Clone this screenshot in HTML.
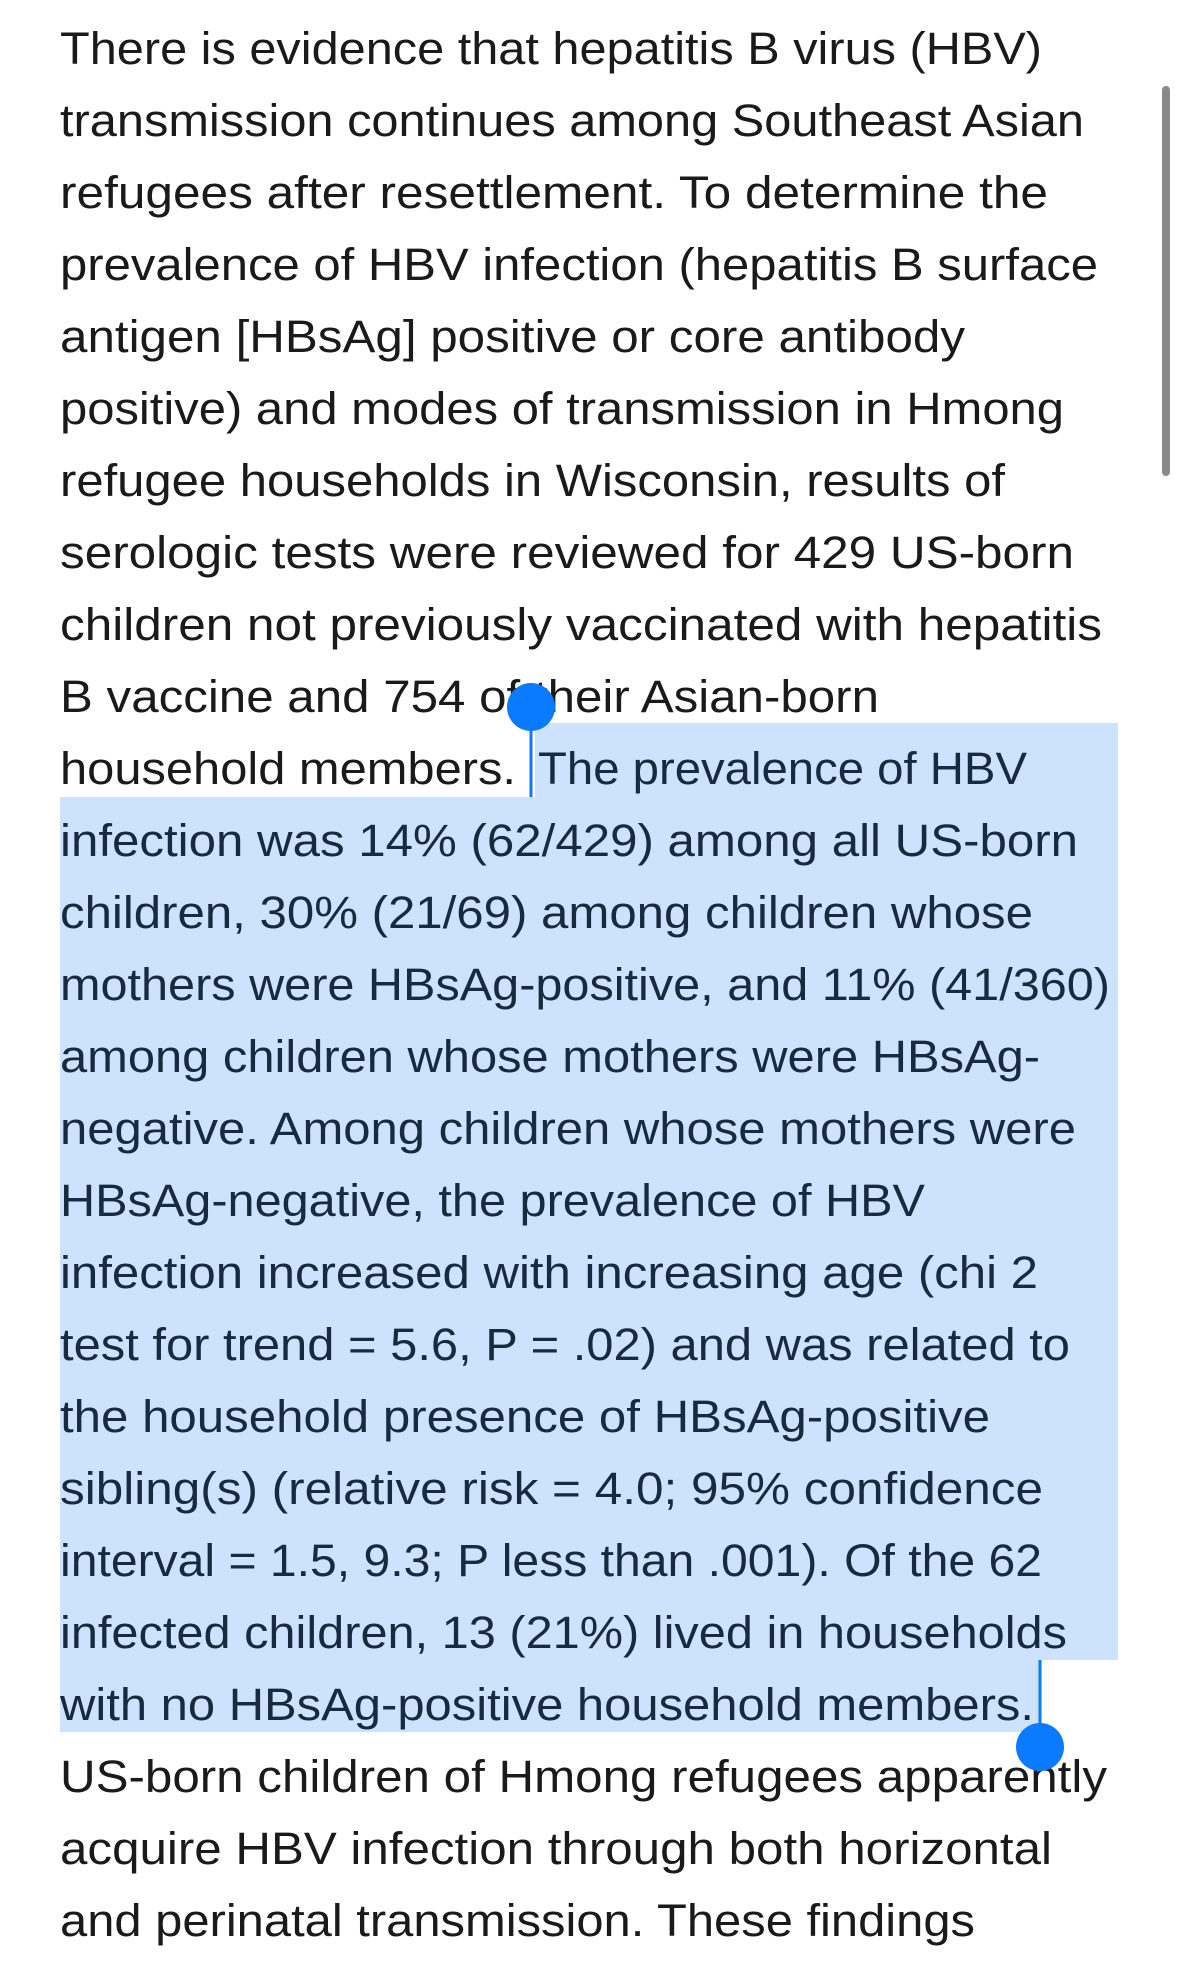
<!DOCTYPE html>
<html><head><meta charset="utf-8"><style>
html,body{margin:0;padding:0;background:#fff;width:1179px;height:1974px;overflow:hidden}
svg{display:block}
text{font-family:"Liberation Sans",sans-serif;font-size:45px;fill:#1a1a1a}
.h{fill:#182a40}
</style></head><body>
<svg width="1179" height="1974" viewBox="0 0 1179 1974">
<g fill="#cce2fd">
<rect x="535" y="723" width="583" height="74"/>
<rect x="60" y="797" width="1058" height="863"/>
<rect x="60" y="1660" width="980" height="72"/>
</g>
<g>
<text x="60" y="64" textLength="982" lengthAdjust="spacingAndGlyphs">There is evidence that hepatitis B virus (HBV)</text>
<text x="60" y="136" textLength="1024" lengthAdjust="spacingAndGlyphs">transmission continues among Southeast Asian</text>
<text x="60" y="208" textLength="988" lengthAdjust="spacingAndGlyphs">refugees after resettlement. To determine the</text>
<text x="60" y="280" textLength="1038" lengthAdjust="spacingAndGlyphs">prevalence of HBV infection (hepatitis B surface</text>
<text x="60" y="352" textLength="905" lengthAdjust="spacingAndGlyphs">antigen [HBsAg] positive or core antibody</text>
<text x="60" y="424" textLength="1004" lengthAdjust="spacingAndGlyphs">positive) and modes of transmission in Hmong</text>
<text x="60" y="496" textLength="945" lengthAdjust="spacingAndGlyphs">refugee households in Wisconsin, results of</text>
<text x="60" y="568" textLength="1014" lengthAdjust="spacingAndGlyphs">serologic tests were reviewed for 429 US-born</text>
<text x="60" y="640" textLength="1042" lengthAdjust="spacingAndGlyphs">children not previously vaccinated with hepatitis</text>
<text x="60" y="712" textLength="819" lengthAdjust="spacingAndGlyphs">B vaccine and 754 of their Asian-born</text>
<text x="60" y="784" textLength="456" lengthAdjust="spacingAndGlyphs">household members.</text>
<text class="h" x="538" y="784" textLength="489" lengthAdjust="spacingAndGlyphs">The prevalence of HBV</text>
<text class="h" x="60" y="856" textLength="1018" lengthAdjust="spacingAndGlyphs">infection was 14% (62/429) among all US-born</text>
<text class="h" x="60" y="928" textLength="973" lengthAdjust="spacingAndGlyphs">children, 30% (21/69) among children whose</text>
<text class="h" x="60" y="1000" textLength="1050" lengthAdjust="spacingAndGlyphs">mothers were HBsAg-positive, and 11% (41/360)</text>
<text class="h" x="60" y="1072" textLength="980" lengthAdjust="spacingAndGlyphs">among children whose mothers were HBsAg-</text>
<text class="h" x="60" y="1144" textLength="1016" lengthAdjust="spacingAndGlyphs">negative. Among children whose mothers were</text>
<text class="h" x="60" y="1216" textLength="865" lengthAdjust="spacingAndGlyphs">HBsAg-negative, the prevalence of HBV</text>
<text class="h" x="60" y="1288" textLength="978" lengthAdjust="spacingAndGlyphs">infection increased with increasing age (chi 2</text>
<text class="h" x="60" y="1360" textLength="1010" lengthAdjust="spacingAndGlyphs">test for trend = 5.6, P = .02) and was related to</text>
<text class="h" x="60" y="1432" textLength="930" lengthAdjust="spacingAndGlyphs">the household presence of HBsAg-positive</text>
<text class="h" x="60" y="1504" textLength="983" lengthAdjust="spacingAndGlyphs">sibling(s) (relative risk = 4.0; 95% confidence</text>
<text class="h" x="60" y="1576" textLength="982" lengthAdjust="spacingAndGlyphs">interval = 1.5, 9.3; P less than .001). Of the 62</text>
<text class="h" x="60" y="1648" textLength="1007" lengthAdjust="spacingAndGlyphs">infected children, 13 (21%) lived in households</text>
<text class="h" x="60" y="1720" textLength="974" lengthAdjust="spacingAndGlyphs">with no HBsAg-positive household members.</text>
<text x="60" y="1792" textLength="1047" lengthAdjust="spacingAndGlyphs">US-born children of Hmong refugees apparently</text>
<text x="60" y="1864" textLength="992" lengthAdjust="spacingAndGlyphs">acquire HBV infection through both horizontal</text>
<text x="60" y="1936" textLength="915" lengthAdjust="spacingAndGlyphs">and perinatal transmission. These findings</text>
<text x="60" y="2008" textLength="1000" lengthAdjust="spacingAndGlyphs">emphasize the importance of routine hepatitis</text>
</g>
<rect x="529.5" y="707" width="3" height="90" fill="#0a7aff"/>
<circle cx="531" cy="707" r="24" fill="#0a7aff"/>
<rect x="1038.5" y="1660" width="3" height="88" fill="#0a7aff"/>
<circle cx="1040" cy="1747" r="24" fill="#0a7aff"/>
<rect x="1162" y="86" width="8" height="390" rx="4" fill="#8a8a8e"/>
</svg>
</body></html>
